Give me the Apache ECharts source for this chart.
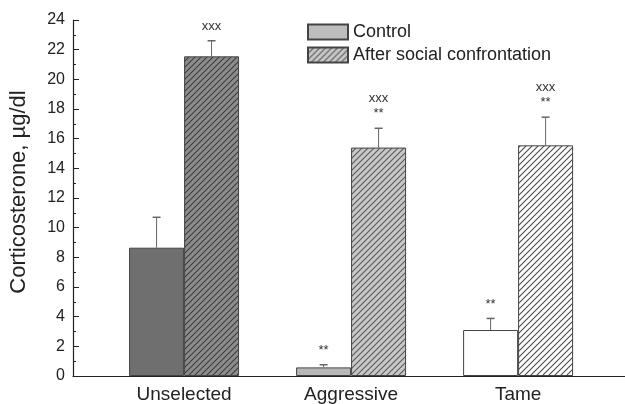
<!DOCTYPE html>
<html>
<head>
<meta charset="utf-8">
<script src="https://cdn.jsdelivr.net/npm/echarts@6/dist/echarts.min.js"></script>
<style>
  html, body { margin: 0; padding: 0; background: #fff; }
  #chart { width: 625px; height: 404px; }
</style>
</head>
<body>
<div id="chart"></div>
<script>
// Corticosterone levels per rat line, before and after social confrontation
const categories = ['Unselected', 'Aggressive', 'Tame'];
const controlMean = [8.65, 0.58, 3.1];
const controlErr = [2.05, 0.18, 0.78];
const afterMean = [21.55, 15.4, 15.55];
const afterErr = [1.05, 1.3, 1.9];
const controlMarks = ['', '**', '**'];
const afterMarks = ['xxx', 'xxx\n**', 'xxx\n**'];
const yTicks = [0, 2, 4, 6, 8, 10, 12, 14, 16, 18, 20, 22, 24];

const FONT = '"Liberation Sans", Arial, sans-serif';
const BAR_W = 55;

// per-line fill colours: solid for controls, background + stroke of hatched bars
const controlFill = ['#6f6f6f', '#b7b7b7', '#ffffff'];
const afterFill = ['#8c8c8c', '#c8c8c8', '#ffffff'];
const hatchColor = ['#3e3e3e', '#5a5a5a', '#4a4a4a'];

// "/" diagonal hatching as a repeating canvas tile
function hatch(bg, fg) {
  const s = 6;
  const c = document.createElement('canvas');
  c.width = s; c.height = s;
  const g = c.getContext('2d');
  g.fillStyle = bg;
  g.fillRect(0, 0, s, s);
  g.strokeStyle = fg;
  g.lineWidth = 1.1;
  g.beginPath();
  g.moveTo(-1, s + 1); g.lineTo(s + 1, -1);
  g.moveTo(-1, 1); g.lineTo(1, -1);
  g.moveTo(s - 1, s + 1); g.lineTo(s + 1, s - 1);
  g.stroke();
  return { image: c, repeat: 'repeat' };
}

const catPos = categories.map((c, i) => i + 1);

const controlData = catPos.map((x, i) => ({
  value: [x, controlMean[i]],
  itemStyle: { color: controlFill[i] }
}));
const afterData = catPos.map((x, i) => ({
  value: [x, afterMean[i]],
  itemStyle: { color: hatch(afterFill[i], hatchColor[i]) }
}));

// error bar + significance text, shifted half a bar left/right of the group centre
function errorSeries(name, means, errs, marks, side) {
  return {
    type: 'custom',
    name: name + ' error',
    silent: true,
    z: 5,
    data: catPos.map((x, i) => [x, means[i], means[i] + errs[i], i]),
    renderItem: function (params, api) {
      const i = api.value(3);
      const base = api.coord([api.value(0), api.value(1)]);
      const top = api.coord([api.value(0), api.value(2)]);
      const cx = base[0] + side * BAR_W / 2;
      const children = [
        { type: 'line', shape: { x1: cx, y1: base[1], x2: cx, y2: top[1] },
          style: { stroke: '#666', lineWidth: 1 } },
        { type: 'line', shape: { x1: cx - 4, y1: top[1], x2: cx + 4, y2: top[1] },
          style: { stroke: '#666', lineWidth: 1.5 } }
      ];
      if (marks[i]) {
        children.push({
          type: 'text',
          style: {
            text: marks[i], x: cx, y: top[1] - 7,
            align: 'center', verticalAlign: 'bottom',
            font: '13px ' + FONT, fill: '#333', lineHeight: 15
          }
        });
      }
      return { type: 'group', children: children };
    }
  };
}

const chart = echarts.init(document.getElementById('chart'));
chart.setOption({
  animation: false,
  backgroundColor: '#fff',
  textStyle: { fontFamily: FONT },
  grid: { left: 73, right: 0, top: 20, bottom: 27 },
  legend: {
    orient: 'vertical',
    left: 302,
    top: 18,
    itemWidth: 40,
    itemHeight: 15,
    itemGap: 5,
    icon: 'rect',
    textStyle: { fontSize: 18, color: '#222', fontFamily: FONT },
    data: ['Control', 'After social confrontation']
  },
  xAxis: {
    type: 'value',
    min: 0.335,
    max: 3.64,
    splitLine: { show: false },
    axisLine: { show: true, lineStyle: { color: '#222', width: 1.2 } },
    axisTick: { show: false },
    axisLabel: {
      customValues: catPos,
      formatter: v => categories[Math.round(v) - 1] || '',
      fontSize: 19, color: '#222', margin: 9, fontFamily: FONT
    }
  },
  yAxis: {
    type: 'value',
    min: 0,
    max: 24,
    interval: 2,
    name: 'Corticosterone, \u00b5g/dl',
    nameLocation: 'middle',
    nameRotate: 90,
    nameGap: 43,
    nameTextStyle: { fontSize: 22, color: '#222', fontFamily: FONT, padding: [0, 0, 0, 12] },
    splitLine: { show: false },
    axisLine: { show: true, lineStyle: { color: '#222', width: 1.2 } },
    axisTick: { show: true, inside: true, length: 6, lineStyle: { color: '#222' },
      customValues: yTicks },
    minorTick: { show: true, splitNumber: 2, length: 3, lineStyle: { color: '#222' } },
    axisLabel: { fontSize: 16, color: '#222', margin: 8, fontFamily: FONT,
      customValues: yTicks }
  },
  series: [
    {
      type: 'bar',
      name: 'Control',
      barWidth: BAR_W,
      barGap: '0%',
      itemStyle: { color: '#bdbdbd', borderColor: '#444', borderWidth: 1 },
      data: controlData
    },
    {
      type: 'bar',
      name: 'After social confrontation',
      barWidth: BAR_W,
      barGap: '0%',
      itemStyle: { color: hatch('#c8c8c8', '#5a5a5a'), borderColor: '#444', borderWidth: 1 },
      data: afterData
    },
    errorSeries('Control', controlMean, controlErr, controlMarks, -1),
    errorSeries('After social confrontation', afterMean, afterErr, afterMarks, 1)
  ]
});
</script>
</body>
</html>
